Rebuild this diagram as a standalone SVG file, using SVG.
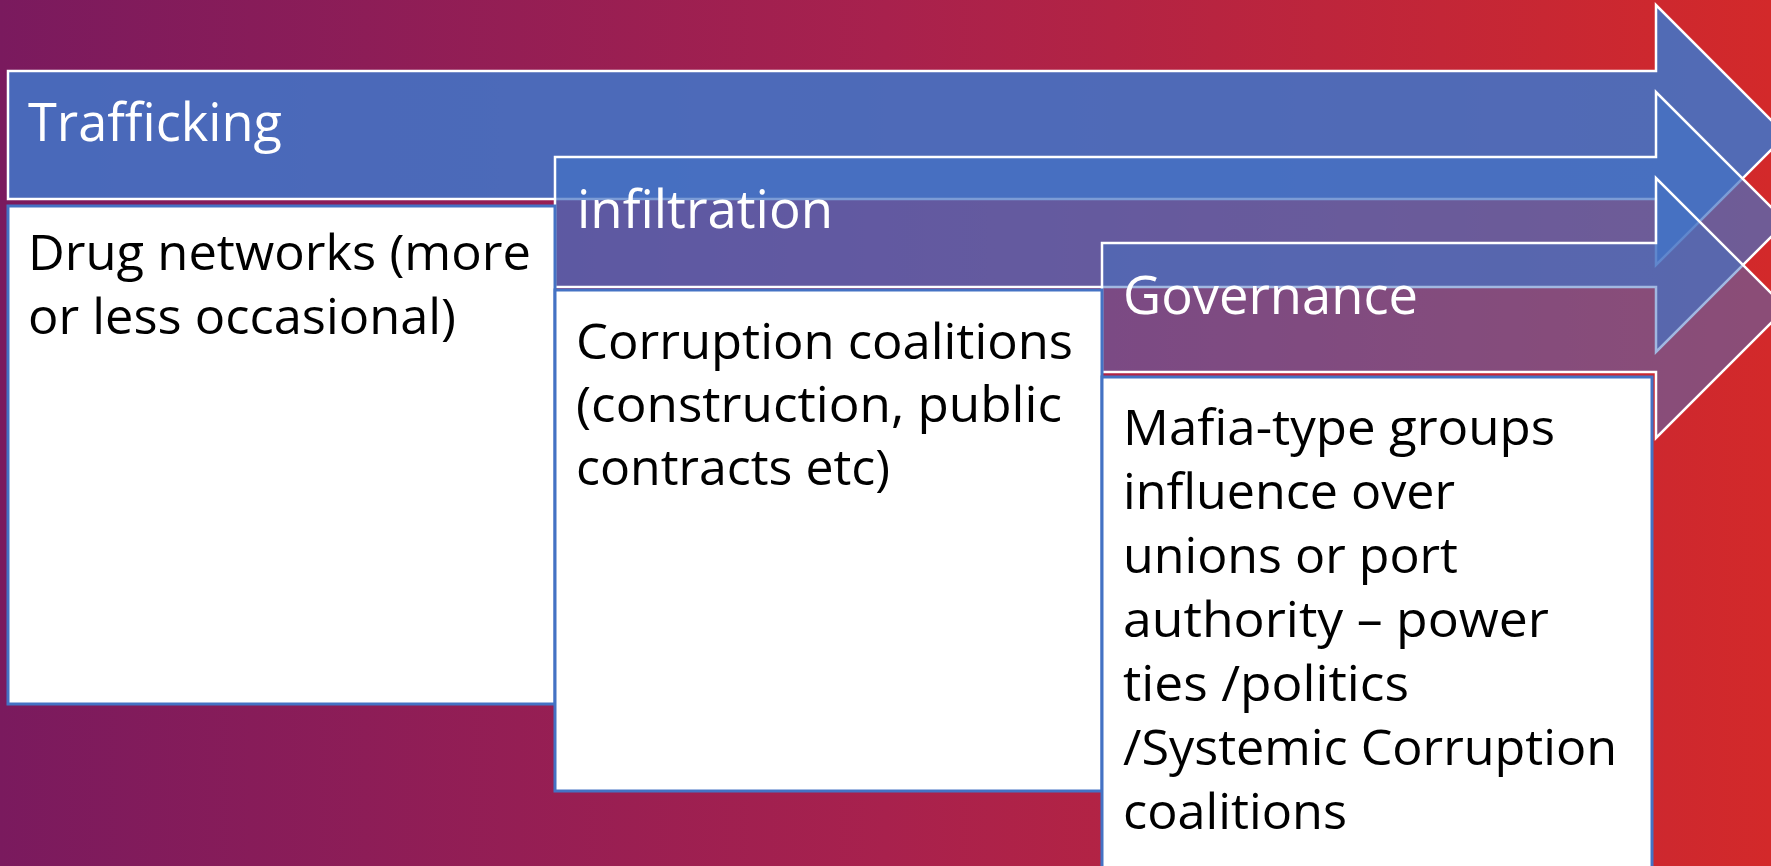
<svg xmlns="http://www.w3.org/2000/svg" width="1771" height="866" viewBox="0 0 1771 866">
<defs>
<linearGradient id="bg" x1="0" y1="0" x2="1" y2="0">
<stop offset="0" stop-color="#7A1A5E"/>
<stop offset="0.5" stop-color="#A8214D"/>
<stop offset="1" stop-color="#D3292A"/>
</linearGradient>
</defs>
<style>
.arrow{fill:#4472C4;stroke:#FFFFFF;stroke-width:2.5;stroke-linejoin:miter}
.box{fill:#FFFFFF;stroke:#4472C4;stroke-width:3}
.hdr{font-family:"Open Sans","Liberation Sans",sans-serif;font-size:53px;fill:#FFFFFF}
.body{font-family:"Open Sans","Liberation Sans",sans-serif;font-size:50px;fill:#000000}
</style>
<rect x="0" y="0" width="1771" height="866" fill="url(#bg)"/>
<g id="connectors"/>
<g id="arrow-trafficking">
<path class="arrow" fill-opacity="0.9" d="M8,71 H1656 V5 L1786,135 L1656,265 V199 H8 Z"/>
<text class="hdr" x="28" y="141" textLength="254" lengthAdjust="spacingAndGlyphs">Trafficking</text>
</g>
<g id="arrow-infiltration">
<path class="arrow" fill-opacity="0.7" d="M555,157 H1656 V92 L1786,222 L1656,352 V287 H555 Z"/>
<text class="hdr" x="577" y="228" textLength="256" lengthAdjust="spacingAndGlyphs">infiltration</text>
</g>
<g id="arrow-governance">
<path class="arrow" fill-opacity="0.5" d="M1102,243 H1656 V178 L1786,308 L1656,438 V372 H1102 Z"/>
<text class="hdr" x="1123" y="314" textLength="295" lengthAdjust="spacingAndGlyphs">Governance</text>
</g>
<g id="box-trafficking">
<rect class="box" x="8" y="206" width="547" height="498"/>
<text class="body" x="28" y="270" textLength="503" lengthAdjust="spacingAndGlyphs">Drug networks (more</text>
<text class="body" x="28" y="334" textLength="428" lengthAdjust="spacingAndGlyphs">or less occasional)</text>
</g>
<g id="box-infiltration">
<rect class="box" x="555" y="290" width="547" height="501"/>
<text class="body" x="576" y="359" textLength="497" lengthAdjust="spacingAndGlyphs">Corruption coalitions</text>
<text class="body" x="576" y="422" textLength="486" lengthAdjust="spacingAndGlyphs">(construction, public</text>
<text class="body" x="576" y="485" textLength="314" lengthAdjust="spacingAndGlyphs">contracts etc)</text>
</g>
<g id="box-governance">
<rect class="box" x="1102" y="377" width="550" height="500"/>
<text class="body" x="1123" y="445" textLength="432" lengthAdjust="spacingAndGlyphs">Mafia-type groups</text>
<text class="body" x="1123" y="509" textLength="332" lengthAdjust="spacingAndGlyphs">influence over</text>
<text class="body" x="1123" y="573" textLength="335" lengthAdjust="spacingAndGlyphs">unions or port</text>
<text class="body" x="1123" y="637" textLength="426" lengthAdjust="spacingAndGlyphs">authority – power</text>
<text class="body" x="1123" y="701" textLength="286" lengthAdjust="spacingAndGlyphs">ties /politics</text>
<text class="body" x="1123" y="765" textLength="494" lengthAdjust="spacingAndGlyphs">/Systemic Corruption</text>
<text class="body" x="1123" y="829" textLength="224" lengthAdjust="spacingAndGlyphs">coalitions</text>
</g>
</svg>
